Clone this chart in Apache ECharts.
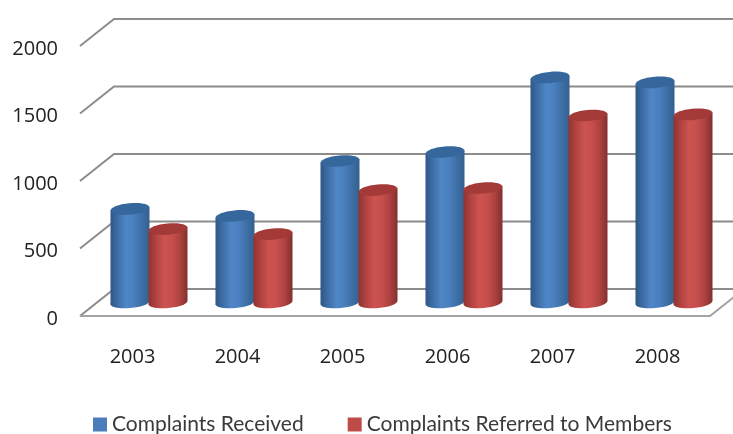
<!DOCTYPE html>
<html>
<head>
<meta charset="utf-8">
<style>html,body{margin:0;padding:0;background:#fff}#chart{width:733px;height:434px}</style>
<script src="https://cdn.jsdelivr.net/npm/echarts@6/dist/echarts.min.js"></script>
</head>
<body>
<div id="chart"></div>
<script>
const years = ['2003', '2004', '2005', '2006', '2007', '2008'];
const received = [693, 641, 1048, 1115, 1667, 1630];
const referred = [544, 507, 833, 848, 1385, 1393];
const yTicks = [0, 500, 1000, 1500, 2000];

// Oblique projection of the chart box: how far the back wall sits from the front edge.
const DEPTH_X = 34, DEPTH_Y = -27;
const RX = 19.5, RY = 5.6, TILT = -0.09;

function sideFill(stops) {
  return new echarts.graphic.LinearGradient(0, 0, 1, 0, stops.map((c, i) => ({ offset: i / (stops.length - 1), color: c })));
}

// One tilted cylinder standing halfway between the front edge and the back wall.
function cylinder(offsetX, sideStops, capColor) {
  return function (params, api) {
    const base = api.coord([api.value(0), 0]);
    const top = api.coord([api.value(0), api.value(1)]);
    const cx = base[0] + offsetX;
    const by = base[1] + DEPTH_Y / 2;
    const ty = top[1] + DEPTH_Y / 2;
    const dy = RX * Math.sin(-TILT);
    const fill = sideFill(sideStops);
    return {
      type: 'group',
      children: [
        { type: 'ellipse', x: cx, y: by, rotation: -TILT, shape: { cx: 0, cy: 0, rx: RX, ry: RY }, style: { fill } },
        { type: 'polygon', shape: { points: [[cx - RX, ty + dy], [cx + RX, ty - dy], [cx + RX, by - dy], [cx - RX, by + dy]] }, style: { fill } },
        { type: 'ellipse', x: cx, y: ty, rotation: -TILT, shape: { cx: 0, cy: 0, rx: RX, ry: RY }, style: { fill: capColor } }
      ]
    };
  };
}

// Wall gridlines with their diagonal run back from the value axis, plus the floor edge.
function frameLine(params, api) {
  const v = api.value(0);
  const band = api.size([1, 0])[0];
  const y = api.coord([0, v])[1];
  const x0 = api.coord([0, v])[0] - band / 2;
  const right = api.coord([years.length - 1, v])[0] + band / 2;
  const children = [{
    type: 'polyline',
    shape: { points: [[x0, y], [x0 + DEPTH_X, y + DEPTH_Y], [right + DEPTH_X, y + DEPTH_Y]] },
    style: { stroke: '#8c8c8c', lineWidth: 2, fill: null }
  }];
  if (v === 0) {
    children.push({
      type: 'polyline',
      shape: { points: [[x0, y], [right, y], [right + DEPTH_X, y + DEPTH_Y]] },
      style: { stroke: '#a3a3a3', lineWidth: 2, fill: null }
    });
  }
  return { type: 'group', children };
}

const chart = echarts.init(document.getElementById('chart'), null, { renderer: 'canvas' });
chart.setOption({
  animation: false,
  backgroundColor: '#ffffff',
  textStyle: { fontFamily: 'Open Sans' },
  grid: { left: 80, width: 630, top: 46, height: 270 },
  legend: {
    data: ['Complaints Received', 'Complaints Referred to Members'],
    left: 93, top: 414, padding: 0,
    icon: 'rect', itemWidth: 14, itemHeight: 14, itemGap: 44,
    textStyle: { fontFamily: 'Lato', fontSize: 21, color: '#3a3a3a' }
  },
  xAxis: {
    type: 'category', data: years,
    axisLine: { show: false }, axisTick: { show: false }, splitLine: { show: false },
    axisLabel: { fontFamily: 'Open Sans', fontSize: 20, color: '#222', margin: 31 }
  },
  yAxis: {
    type: 'value', min: 0, max: 2000, interval: 500,
    axisLine: { show: false }, axisTick: { show: false }, splitLine: { show: false },
    axisLabel: { fontFamily: 'Open Sans', fontSize: 20, color: '#222', margin: 22, verticalAlign: 'top', lineHeight: 6, formatter: v => String(v) }
  },
  series: [
    {
      name: 'frame', type: 'custom', silent: true, z: 1,
      data: yTicks.map(v => [v]),
      encode: { y: 0 },
      renderItem: frameLine
    },
    {
      name: 'Complaints Received', type: 'custom', z: 2,
      itemStyle: { color: '#4a7ebb' },
      data: years.map((y, i) => [i, received[i]]),
      encode: { x: 0, y: 1 },
      renderItem: cylinder(-2.5, ['#2f5685', '#3f6fa8', '#4f86c6', '#4a80bf', '#3e6fa6', '#34608f'], '#35679c')
    },
    {
      name: 'Complaints Referred to Members', type: 'custom', z: 3,
      itemStyle: { color: '#be4b48' },
      data: years.map((y, i) => [i, referred[i]]),
      encode: { x: 0, y: 1 },
      renderItem: cylinder(35.5, ['#8f3331', '#b34442', '#cb5350', '#c64f4d', '#ad4240', '#82302e'], '#a43a38')
    }
  ]
});
</script>
</body>
</html>
